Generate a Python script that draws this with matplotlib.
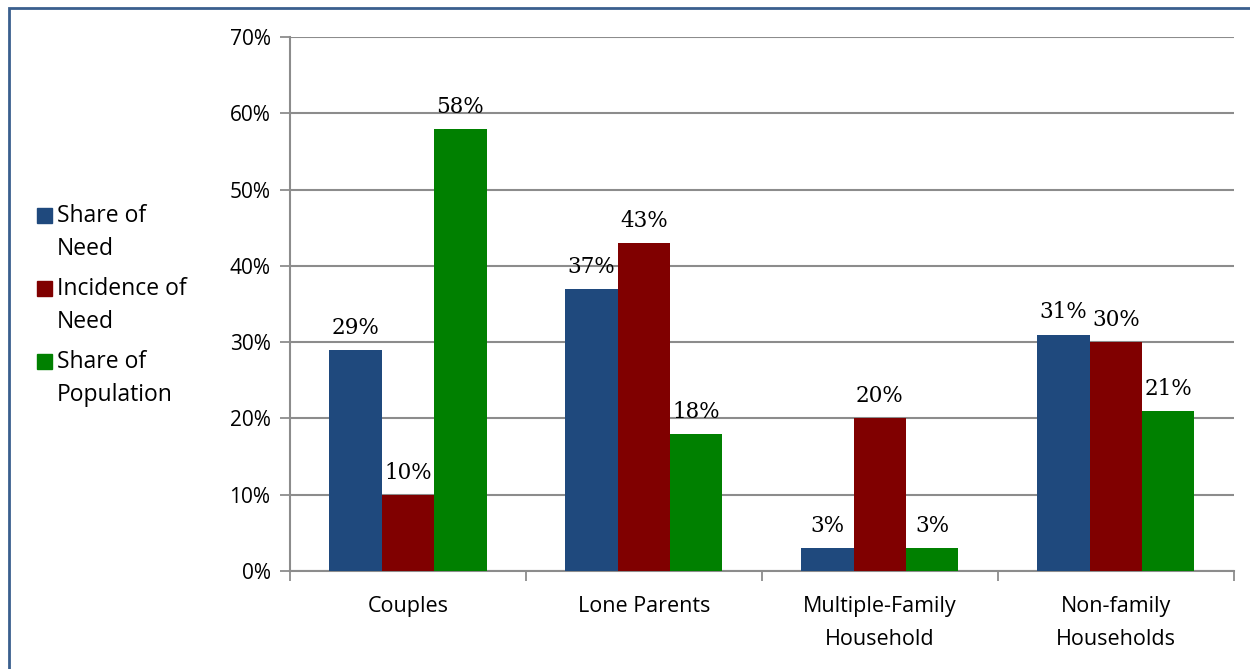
import numpy as np
import matplotlib.pyplot as plt
from matplotlib.patches import Rectangle

# Chart data
categories = ["Couples", "Lone Parents", "Multiple-Family\nHousehold", "Non-family\nHouseholds"]
series_names = ["Share of\nNeed", "Incidence of\nNeed", "Share of\nPopulation"]
share_of_need = [29, 37, 3, 31]
incidence_of_need = [10, 43, 20, 30]
share_of_population = [58, 18, 3, 21]

colors = ["#1F497D", "#800000", "#008000"]
sans = ["Open Sans", "DejaVu Sans"]
serif = ["DejaVu Serif"]

fig = plt.figure(figsize=(12.5, 6.69), dpi=100)
ax = fig.add_axes([0.232, 0.1465, 0.755, 0.798])

x = np.arange(len(categories))
width = 0.222
all_series = [share_of_need, incidence_of_need, share_of_population]
for i, (vals, col) in enumerate(zip(all_series, colors)):
    bars = ax.bar(x + (i - 1) * width, vals, width, color=col, zorder=3)
    for b, v in zip(bars, vals):
        ax.annotate(f"{v}%", (b.get_x() + b.get_width() / 2, v),
                    xytext=(0, 8), textcoords="offset points",
                    ha="center", va="bottom", fontsize=15.5, family=serif)

ax.set_xlim(-0.5, len(categories) - 0.5)
ax.set_ylim(0, 70)
ax.set_yticks(range(0, 71, 10))
ax.set_yticklabels([f"{t}%" for t in range(0, 71, 10)], family=sans, fontsize=15)
ax.yaxis.grid(True, color="#8C8C8C", linewidth=1.5, zorder=0)

ax.set_xticks(np.arange(-0.5, len(categories), 1.0))
ax.set_xticklabels([])
ax.set_xticks(x, minor=True)
ax.set_xticklabels(categories, minor=True, family=sans, fontsize=15.5, linespacing=1.75)
ax.tick_params(axis="x", which="minor", length=0, pad=18)
ax.tick_params(axis="x", which="major", length=7, color="#8C8C8C", width=1.3)
ax.tick_params(axis="y", length=7, color="#8C8C8C", width=1.3, pad=7)

for s in ["top", "right"]:
    ax.spines[s].set_visible(False)
for s in ["left", "bottom"]:
    ax.spines[s].set_color("#8C8C8C")
    ax.spines[s].set_linewidth(1.5)

# legend on the left, square aligned with first line of each label
leg_y = [215, 288, 361]
for name, col, yy in zip(series_names, colors, leg_y):
    fig.patches.append(Rectangle((37 / 1250, 1 - (yy + 8) / 669), 15 / 1250, 15 / 669,
                                 transform=fig.transFigure, color=col))
    fig.text(57 / 1250, 1 - (yy - 11) / 669, name, family=sans, fontsize=16.5,
             va="top", ha="left", linespacing=1.5)

# outer border
fig.patches.append(Rectangle((9 / 1250, -0.05), 1.1, 1 - 8 / 669 + 0.05,
                             transform=fig.transFigure, fill=False,
                             edgecolor="#3A5F8E", linewidth=2))

fig.savefig("out.png", dpi=100)
